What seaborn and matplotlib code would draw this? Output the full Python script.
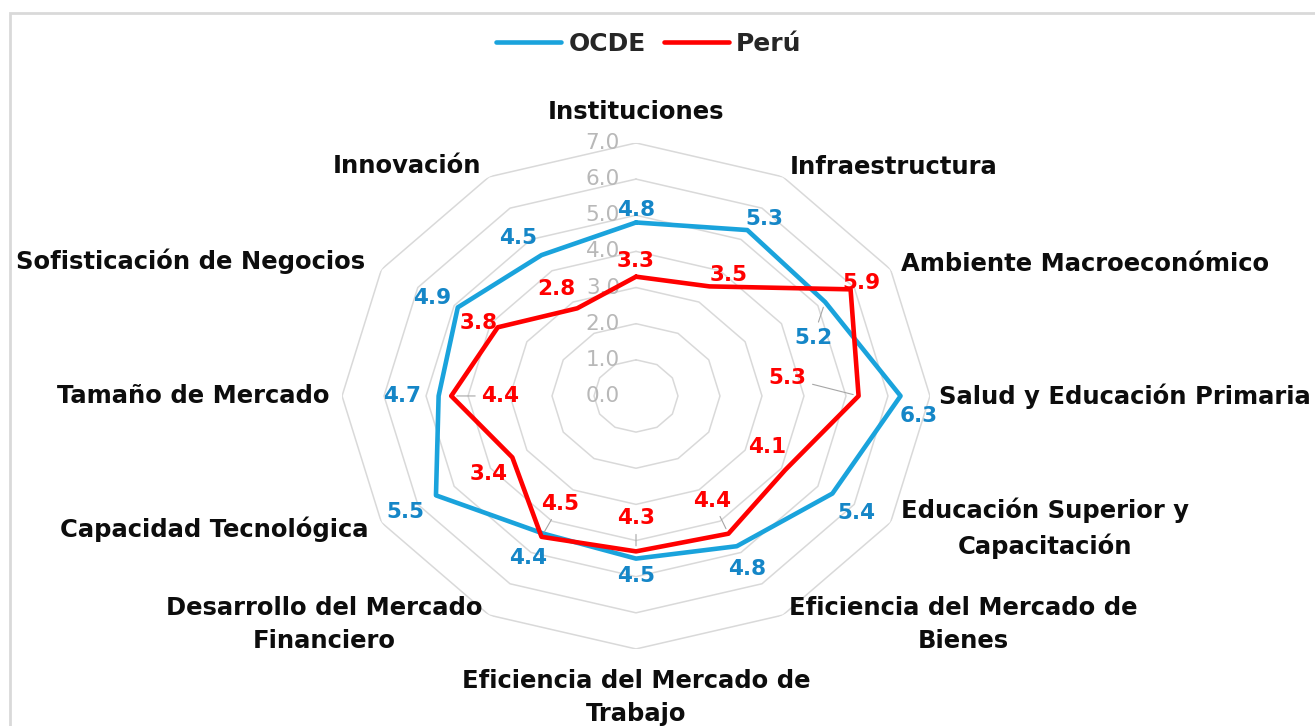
import numpy as np
import pandas as pd
import matplotlib
matplotlib.use("Agg")
import matplotlib.pyplot as plt
import seaborn as sns

# %% data
categorias = [
    "Instituciones",
    "Infraestructura",
    "Ambiente Macroeconómico",
    "Salud y Educación Primaria",
    "Educación Superior y\nCapacitación",
    "Eficiencia del Mercado de\nBienes",
    "Eficiencia del Mercado de\nTrabajo",
    "Desarrollo del Mercado\nFinanciero",
    "Capacidad Tecnológica",
    "Tamaño de Mercado",
    "Sofisticación de Negocios",
    "Innovación",
]
ocde = [4.8, 5.3, 5.2, 6.3, 5.4, 4.8, 4.5, 4.4, 5.5, 4.7, 4.9, 4.5]
peru = [3.3, 3.5, 5.9, 5.3, 4.1, 4.4, 4.3, 4.5, 3.4, 4.4, 3.8, 2.8]
niveles = [0, 1, 2, 3, 4, 5, 6, 7]
series = ["OCDE", "Perú"]

# %% layout (pixel offsets of data labels, image y pointing down)
off_ocde = [(0, -12), (17, -11), (-12, 36), (18, 20), (24, 19), (10, 23),
            (0, 17), (-16, 24), (-31, 17), (-37, 0), (-26, -9), (-23, -17)]
off_peru = [(0, -16), (19, -11), (11, -6), (-71, -18), (-18, -23), (-16, -33),
            (0, -33), (19, -33), (-24, 17), (49, 0), (-19, -4), (-21, -19)]
lead_ocde = [2]
lead_peru = [3, 5, 6, 7, 9]
r_cat = [7.85, 7.3, 7.3, 7.22, 7.3, 7.3, 8.34, 7.3, 7.35, 7.3, 7.45, 7.35]

azul = "#1aa3dc"
azul_txt = "#1586c7"
rojo = "#ff0000"
gris = "#d9d9d9"

sns.set_theme(style="white")
plt.rcParams["font.family"] = ["DejaVu Sans"]

n = len(categorias)
theta = np.linspace(0, 2 * np.pi, n, endpoint=False)
theta_c = np.append(theta, theta[0])

df = pd.concat([
    pd.DataFrame({"theta": theta_c, "valor": np.append(ocde, ocde[0]), "serie": "OCDE"}),
    pd.DataFrame({"theta": theta_c, "valor": np.append(peru, peru[0]), "serie": "Perú"}),
])

fig = plt.figure(figsize=(13.15, 7.26), dpi=100)
ax = fig.add_axes([0.2601, 0.1061, 0.4471, 0.6970], projection="polar")
ax.set_theta_offset(np.pi / 2)
ax.set_theta_direction(-1)
ax.set_aspect("auto")
ax.grid(False)
ax.spines["polar"].set_visible(False)

# polygon grid
for lvl in niveles[1:]:
    ax.plot(theta_c, [lvl] * (n + 1), color=gris, lw=1.1, zorder=1)

sns.lineplot(
    data=df, x="theta", y="valor", hue="serie", hue_order=series,
    palette=[azul, rojo], sort=False, estimator=None, lw=3.3, ax=ax, zorder=3,
)
ax.set_ylim(0, 7)
ax.set_xticks([])
ax.set_yticks([])
ax.set_xlabel("")
ax.set_ylabel("")

# radial scale labels
for lvl in niveles:
    ax.annotate(f"{lvl:.1f}", xy=(0, lvl), xytext=(-16, 0), textcoords="offset pixels",
                ha="right", va="center", fontsize=15.5, color="#b8b8b8", zorder=2)

# category labels
for i, (t, cat) in enumerate(zip(theta, categorias)):
    if i in (0, 6):
        ha = "center"
    else:
        ha = "left" if np.sin(t) > 0 else "right"
    ax.text(t, r_cat[i], cat, ha=ha, va="center", multialignment="center",
            fontsize=17.5, fontweight="bold", color="#0d0d0d", linespacing=1.5,
            clip_on=False)

# data labels
for vals, offs, leads, col in [(ocde, off_ocde, lead_ocde, azul_txt),
                               (peru, off_peru, lead_peru, rojo)]:
    for i, v in enumerate(vals):
        dx, dy = offs[i]
        arrow = None
        if i in leads:
            arrow = dict(arrowstyle="-", color="#a6a6a6", lw=0.8, shrinkA=2, shrinkB=4)
        ax.annotate(f"{v:.1f}", xy=(theta[i], v), xytext=(dx, -dy),
                    textcoords="offset pixels", ha="center", va="center",
                    fontsize=15.5, fontweight="bold", color=col,
                    arrowprops=arrow, zorder=4)

sns.move_legend(
    ax, "center", bbox_to_anchor=(0.522, 1.196), ncol=2, frameon=False, title=None,
    fontsize=18, handlelength=2.6, handletextpad=0.3, columnspacing=0.7,
)
for txt in ax.get_legend().get_texts():
    txt.set_fontweight("bold")
for h in ax.get_legend().get_lines():
    h.set_linewidth(3.3)

# light frame around the chart area
fig.add_artist(plt.Rectangle((10 / 1315, -0.1), 1.2, (726 - 13) / 726 + 0.1,
                             transform=fig.transFigure, fill=False,
                             edgecolor=gris, lw=2))

fig.savefig("out.png", dpi=100)
